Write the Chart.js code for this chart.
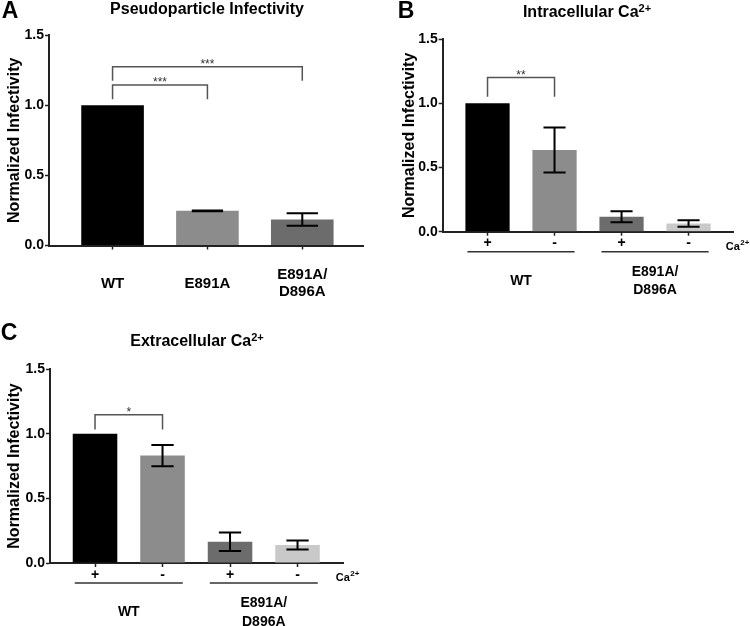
<!DOCTYPE html>
<html lang="en">
<head>
<meta charset="UTF-8">
<title>Infectivity panels</title>
<script src="https://cdn.jsdelivr.net/npm/chart.js"></script>
<style>
  body { margin: 0; background: #fff; font-family: "Liberation Sans", Arial, sans-serif; }
  #figure { position: relative; width: 750px; height: 626px; overflow: hidden; }
  .panel { position: absolute; }
  .panel canvas { display: block; }
  .letter, .title {
    position: absolute; font-weight: bold; color: #000;
    transform: translate(-50%, -50%); white-space: nowrap; line-height: 1;
  }
  .letter { font-size: 23px; }
  .title { font-size: 16px; }
  .title sup { font-size: 11px; vertical-align: baseline; position: relative; top: -5px; }
</style>
</head>
<body>
<div id="figure">
  <div class="panel" style="left:0;top:0"><canvas id="chartA" width="375" height="310"></canvas></div>
  <div class="panel" style="left:395px;top:0"><canvas id="chartB" width="355" height="310"></canvas></div>
  <div class="panel" style="left:0;top:310px"><canvas id="chartC" width="375" height="316"></canvas></div>

  <div class="letter" style="left:10px;top:10px">A</div>
  <div class="letter" style="left:406px;top:10px">B</div>
  <div class="letter" style="left:9px;top:332px">C</div>

  <div class="title" style="left:207px;top:9px">Pseudoparticle Infectivity</div>
  <div class="title" style="left:587px;top:12px">Intracellular Ca<sup>2+</sup></div>
  <div class="title" style="left:197px;top:341px">Extracellular Ca<sup>2+</sup></div>
</div>

<script>
// panel A - pseudoparticle infectivity
const labelsA = ['WT', 'E891A', ['E891A/', 'D896A']];
const valuesA = [1.0, 0.247, 0.185];
const errorsA = [0, 0.003, 0.045];
const pairsA = [[1, 2], [1, 3]];
const topsA = [1.143, 1.274];
const feetA = [1.043, 1.174];
const starsA = ['***', '***'];

// panel B - intracellular Ca2+
const signsB = ['+', '-', '+', '-'];
const groupsB = ['WT', ['E891A/', 'D896A']];
const spansB = [[1, 2], [3, 4]];
const valuesB = [1.0, 0.636, 0.116, 0.064];
const errorsB = [0, 0.175, 0.043, 0.025];
const pairsB = [[1, 2]];
const topsB = [1.2];
const feetB = [1.05];
const starsB = ['**'];

// panel C - extracellular Ca2+
const signsC = ['+', '-', '+', '-'];
const groupsC = ['WT', ['E891A/', 'D896A']];
const spansC = [[1, 2], [3, 4]];
const valuesC = [1.0, 0.831, 0.164, 0.139];
const errorsC = [0, 0.082, 0.072, 0.035];
const pairsC = [[1, 2]];
const topsC = [1.146];
const feetC = [1.033];
const starsC = ['*'];

const FONT = '"Liberation Sans", Arial, sans-serif';
const barColors = ['#000000', '#8c8c8c', '#6c6c6c', '#c9c9c9'];

// error bars, significance brackets, group lines, Ca2+ tag
function marks(cfg) {
  return {
    id: 'marks',
    afterDatasetsDraw(chart) {
      const ctx = chart.ctx, x = chart.scales.x, y = chart.scales.y;
      const bars = chart.getDatasetMeta(0).data;
      ctx.save();
      ctx.strokeStyle = '#000';
      ctx.lineWidth = 2;
      cfg.values.forEach((v, i) => {
        const e = cfg.errors[i];
        if (!e) return;
        const cx = bars[i].x, half = bars[i].width / 4;
        const yt = y.getPixelForValue(v + e), yb = y.getPixelForValue(v - e);
        ctx.beginPath();
        ctx.moveTo(cx, yt); ctx.lineTo(cx, yb);
        ctx.moveTo(cx - half, yt); ctx.lineTo(cx + half, yt);
        ctx.moveTo(cx - half, yb); ctx.lineTo(cx + half, yb);
        ctx.stroke();
      });

      ctx.strokeStyle = '#555';
      ctx.lineWidth = 1.5;
      ctx.fillStyle = '#333';
      ctx.font = '12px ' + FONT;
      ctx.textAlign = 'center';
      ctx.textBaseline = 'alphabetic';
      cfg.pairs.forEach(([a, b], k) => {
        const xa = x.getPixelForValue(a), xb = x.getPixelForValue(b);
        const yt = y.getPixelForValue(cfg.tops[k]), yf = y.getPixelForValue(cfg.feet[k]);
        ctx.beginPath();
        ctx.moveTo(xa, yf); ctx.lineTo(xa, yt); ctx.lineTo(xb, yt); ctx.lineTo(xb, yf);
        ctx.stroke();
        ctx.fillText(cfg.stars[k], (xa + xb) / 2, yt + 1);
      });

      if (cfg.groups) {
        const base = chart.chartArea.bottom;
        ctx.strokeStyle = '#333';
        ctx.fillStyle = '#000';
        cfg.groups.forEach((g, k) => {
          const [a, b] = cfg.spans[k];
          const xa = x.getPixelForValue(a - 0.3), xb = x.getPixelForValue(b + 0.3);
          ctx.beginPath();
          ctx.moveTo(xa, base + 20); ctx.lineTo(xb, base + 20);
          ctx.stroke();
          const lines = [].concat(g);
          ctx.font = 'bold 14px ' + FONT;
          ctx.textBaseline = 'middle';
          lines.forEach((t, j) => {
            ctx.fillText(t, (xa + xb) / 2, base + 49.5 + (j - (lines.length - 1) / 2) * 18.5);
          });
        });
        ctx.textAlign = 'left';
        ctx.textBaseline = 'alphabetic';
        const cx = chart.chartArea.right - 7.5, cy = base + 18;
        ctx.font = 'bold 11px ' + FONT;
        ctx.fillText('Ca', cx, cy);
        const w = ctx.measureText('Ca').width;
        ctx.font = 'bold 8px ' + FONT;
        ctx.fillText('2+', cx + w + 0.5, cy - 5);
      }
      ctx.restore();
    }
  };
}

function makeChart(id, cfg) {
  const axisGrid = { display: true, drawOnChartArea: false, drawTicks: true, tickLength: 4,
                     tickColor: '#222', tickWidth: 1.5, offset: false };
  const axisBorder = { display: true, color: '#222', width: 2 };
  return new Chart(document.getElementById(id), {
    type: 'bar',
    data: {
      datasets: [{
        data: cfg.values.map((v, i) => ({ x: i + 1, y: v })),
        backgroundColor: cfg.colors,
        borderWidth: 0,
        barPercentage: 0.66,
        categoryPercentage: 1
      }]
    },
    options: {
      responsive: false,
      animation: false,
      layout: { padding: { top: cfg.padTop, right: cfg.padRight, left: 0, bottom: 0 } },
      plugins: { legend: { display: false }, tooltip: { enabled: false } },
      scales: {
        x: {
          type: 'linear',
          offset: false,
          min: cfg.xMin,
          max: cfg.xMax,
          afterBuildTicks: s => { s.ticks = cfg.values.map((v, i) => ({ value: i + 1 })); },
          afterFit: s => { s.height = cfg.xHeight; },
          ticks: {
            callback: v => cfg.ticks[Math.round(v) - 1],
            font: { family: FONT, size: cfg.tickSize, weight: 'bold', lineHeight: 1.15 },
            color: '#000',
            padding: cfg.tickPad,
            maxRotation: 0,
            autoSkip: false,
            crossAlign: 'center'
          },
          grid: axisGrid,
          border: axisBorder
        },
        y: {
          min: 0,
          max: 1.5,
          afterFit: s => { s.width = cfg.yWidth; },
          ticks: {
            stepSize: 0.5,
            callback: v => v.toFixed(1),
            font: { family: FONT, size: 14, weight: 'bold' },
            color: '#000',
            padding: 1
          },
          title: {
            display: true,
            text: 'Normalized Infectivity',
            font: { family: FONT, size: 16, weight: 'bold' },
            color: '#000',
            padding: { top: 5, bottom: 0 }
          },
          grid: axisGrid,
          border: axisBorder
        }
      }
    },
    plugins: [marks(cfg)]
  });
}

makeChart('chartA', {
  values: valuesA, errors: errorsA, ticks: labelsA, colors: barColors.slice(0, 3),
  pairs: pairsA, tops: topsA, feet: feetA, stars: starsA,
  yWidth: 49, padTop: 35, padRight: 12, xHeight: 64.5,
  xMin: 0.33, xMax: 3.64, tickPad: 25.5, tickSize: 15
});

makeChart('chartB', {
  values: valuesB, errors: errorsB, ticks: signsB, colors: barColors,
  pairs: pairsB, tops: topsB, feet: feetB, stars: starsB,
  groups: groupsB, spans: spansB,
  yWidth: 47.7, padTop: 39, padRight: 16.7, xHeight: 78.3,
  xMin: 0.331, xMax: 4.668, tickPad: 7.5, tickSize: 14
});

makeChart('chartC', {
  values: valuesC, errors: errorsC, ticks: signsC, colors: barColors,
  pairs: pairsC, tops: topsC, feet: feetC, stars: starsC,
  groups: groupsC, spans: spansC,
  yWidth: 50, padTop: 59, padRight: 31.7, xHeight: 63,
  xMin: 0.333, xMax: 4.678, tickPad: 8, tickSize: 14
});
</script>
</body>
</html>
